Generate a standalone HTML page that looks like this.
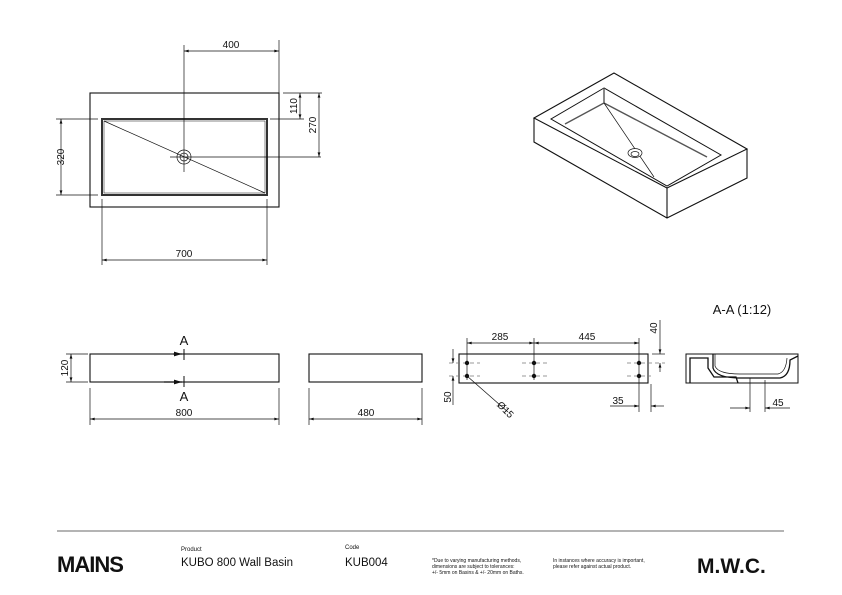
<!DOCTYPE html>
<html><head><style>
body{margin:0;width:842px;height:595px;background:#fff;overflow:hidden;font-family:"Liberation Sans",sans-serif}
svg{position:absolute;left:0;top:0}
text{font-family:"Liberation Sans",sans-serif;fill:#111}
</style></head><body>
<svg width="842" height="595" viewBox="0 0 842 595">
<defs>
<marker id="a" viewBox="0 0 10 6" refX="10" refY="3" markerWidth="7" markerHeight="4" orient="auto-start-reverse"><path d="M0,0L10,3L0,6z" fill="#111"/></marker>
</defs>
<g stroke="#111" fill="none" stroke-width="0.7">
<rect x="90" y="93" width="189" height="114" stroke-width="1.1"/>
<rect x="102" y="119" width="165" height="76" stroke-width="2" stroke="#333"/>
<rect x="104" y="121" width="161" height="72" stroke-width="0.5"/>
<line x1="104" y1="121" x2="265" y2="193"/>
<circle cx="184" cy="157" r="7"/><circle cx="184" cy="157" r="4"/>
<line x1="184" y1="45" x2="184" y2="172"/>
<line x1="170" y1="157" x2="321" y2="157"/>
<line x1="279" y1="40" x2="279" y2="93"/>
<line x1="184" y1="51" x2="279" y2="51" marker-start="url(#a)" marker-end="url(#a)"/>
<line x1="283" y1="93" x2="322" y2="93"/>
<line x1="270" y1="119" x2="304" y2="119"/>
<line x1="300" y1="93" x2="300" y2="119" marker-start="url(#a)" marker-end="url(#a)"/>
<line x1="319" y1="93" x2="319" y2="157" marker-start="url(#a)" marker-end="url(#a)"/>
<line x1="56" y1="119" x2="98" y2="119"/><line x1="56" y1="195" x2="98" y2="195"/>
<line x1="61" y1="119" x2="61" y2="195" marker-start="url(#a)" marker-end="url(#a)"/>
<line x1="102" y1="199" x2="102" y2="265"/><line x1="267" y1="199" x2="267" y2="265"/>
<line x1="102" y1="260" x2="267" y2="260" marker-start="url(#a)" marker-end="url(#a)"/>
<path d="M614,73 L534,118 L667,188 L747,149 Z" stroke-width="1.1"/>
<path d="M534,118 L534,142 L667,218 L747,178 L747,149 M667,188 L667,218" stroke-width="1.1"/>
<path d="M604,88 L551,119 L667,186 L721,155 Z" stroke-width="1"/>
<path d="M604,88 L604,103 L565,124 M604,103 L707,157" stroke="#555" stroke-width="1.4"/>
<line x1="604" y1="103" x2="654" y2="177"/>
<ellipse cx="635" cy="153" rx="7" ry="4.5" fill="#fff"/><ellipse cx="635" cy="154" rx="4" ry="2.5"/>
<rect x="90" y="354" width="189" height="28" stroke-width="1.1"/>
<rect x="309" y="354" width="113" height="28" stroke-width="1.1"/>
<line x1="66" y1="354" x2="88" y2="354"/><line x1="66" y1="382" x2="88" y2="382"/>
<line x1="71" y1="354" x2="71" y2="382" marker-start="url(#a)" marker-end="url(#a)"/>
<line x1="90" y1="388" x2="90" y2="425"/><line x1="279" y1="388" x2="279" y2="425"/>
<line x1="90" y1="419" x2="279" y2="419" marker-start="url(#a)" marker-end="url(#a)"/>
<line x1="309" y1="388" x2="309" y2="425"/><line x1="422" y1="388" x2="422" y2="425"/>
<line x1="309" y1="419" x2="422" y2="419" marker-start="url(#a)" marker-end="url(#a)"/>
<line x1="184" y1="349" x2="184" y2="360" stroke-width="1"/><line x1="184" y1="376" x2="184" y2="387" stroke-width="1"/>
<line x1="173" y1="354" x2="182" y2="354" stroke-width="1.2" marker-end="url(#a)"/>
<line x1="164" y1="382" x2="182" y2="382" stroke-width="1.2" marker-end="url(#a)"/>
<rect x="459" y="354" width="189" height="29" stroke-width="1.1"/>
<g stroke-dasharray="4,3" stroke="#777">
<line x1="449" y1="363" x2="480" y2="363"/><line x1="449" y1="376" x2="480" y2="376"/>
<line x1="522" y1="363" x2="548" y2="363"/><line x1="522" y1="376" x2="548" y2="376"/>
<line x1="627" y1="363" x2="665" y2="363"/><line x1="627" y1="376" x2="651" y2="376"/>
</g>
<g fill="#111" stroke="none">
<circle cx="467" cy="363" r="2.2"/><circle cx="467" cy="376" r="2.2"/>
<circle cx="534" cy="363" r="2.2"/><circle cx="534" cy="376" r="2.2"/>
<circle cx="639" cy="363" r="2.2"/><circle cx="639" cy="376" r="2.2"/>
</g>
<line x1="467" y1="338" x2="467" y2="380"/><line x1="534" y1="338" x2="534" y2="380"/><line x1="639" y1="338" x2="639" y2="412"/>
<line x1="467" y1="343" x2="534" y2="343" marker-start="url(#a)" marker-end="url(#a)"/>
<line x1="534" y1="343" x2="639" y2="343" marker-start="url(#a)" marker-end="url(#a)"/>
<line x1="652" y1="354" x2="665" y2="354"/>
<line x1="660" y1="320" x2="660" y2="354" marker-end="url(#a)"/>
<line x1="660" y1="363" x2="660" y2="372" marker-start="url(#a)"/>
<line x1="453" y1="349" x2="453" y2="363" marker-end="url(#a)"/>
<line x1="453" y1="376" x2="453" y2="405" marker-start="url(#a)"/>
<line x1="467" y1="376" x2="508" y2="412"/>
<line x1="651" y1="384" x2="651" y2="412"/>
<line x1="610" y1="406" x2="639" y2="406" marker-end="url(#a)"/>
<line x1="651" y1="406" x2="664" y2="406" marker-start="url(#a)"/>
<path d="M686,383 L686,354 L798,354 L798,383 Z" stroke-width="1"/>
<path d="M690,383 L690,358 L708,358 L708,368 L714,377 L736,377 L738,383 M713,354 L713,368 Q716,378 740,378 L780,378 Q790,376 790,360 L798,356" stroke-width="1.3"/>
<path d="M715,354 L715,366 Q718,374 740,374 L778,374 Q786,372 787,358" stroke-width="0.7"/>
<line x1="750" y1="378" x2="750" y2="412"/><line x1="765" y1="380" x2="765" y2="412"/>
<line x1="730" y1="408" x2="750" y2="408" marker-end="url(#a)"/>
<line x1="765" y1="408" x2="790" y2="408" marker-start="url(#a)"/>
<line x1="57" y1="531" x2="784" y2="531" stroke="#888" stroke-width="1.2"/>
</g>
<g font-size="10">
<text x="231" y="48" text-anchor="middle">400</text>
<text x="184" y="257" text-anchor="middle">700</text>
<text transform="translate(297,106) rotate(-90)" text-anchor="middle">110</text>
<text transform="translate(316,125) rotate(-90)" text-anchor="middle">270</text>
<text transform="translate(64,157) rotate(-90)" text-anchor="middle">320</text>
<text transform="translate(68,368) rotate(-90)" text-anchor="middle">120</text>
<text x="184" y="416" text-anchor="middle">800</text>
<text x="366" y="416" text-anchor="middle">480</text>
<text x="500" y="340" text-anchor="middle">285</text>
<text x="587" y="340" text-anchor="middle">445</text>
<text transform="translate(657,328) rotate(-90)" text-anchor="middle">40</text>
<text transform="translate(451,397) rotate(-90)" text-anchor="middle">50</text>
<text x="618" y="404" text-anchor="middle">35</text>
<text x="778" y="406" text-anchor="middle">45</text>
<text transform="translate(503,412) rotate(45)" text-anchor="middle">Ø15</text>
</g>
<text x="184" y="345" font-size="13" text-anchor="middle">A</text>
<text x="184" y="401" font-size="13" text-anchor="middle">A</text>
<text x="742" y="314" font-size="13" text-anchor="middle">A-A (1:12)</text>
<text x="57" y="572" font-size="22" font-weight="bold" letter-spacing="-1">MAINS</text>
<text x="181" y="551" font-size="6">Product</text>
<text x="181" y="566" font-size="11.5">KUBO 800 Wall Basin</text>
<text x="345" y="549" font-size="6">Code</text>
<text x="345" y="566" font-size="11.5">KUB004</text>
<text x="432" y="562" font-size="5">*Due to varying manufacturing methods,</text>
<text x="432" y="568" font-size="5">dimensions are subject to tolerances:</text>
<text x="432" y="574" font-size="5">+/- 5mm on Basins &amp; +/- 20mm on Baths.</text>
<text x="553" y="562" font-size="5">In instances where accuracy is important,</text>
<text x="553" y="568" font-size="5">please refer against actual product.</text>
<text x="697" y="573" font-size="21" font-weight="bold">M.W.C.</text>
</svg>
</body></html>
